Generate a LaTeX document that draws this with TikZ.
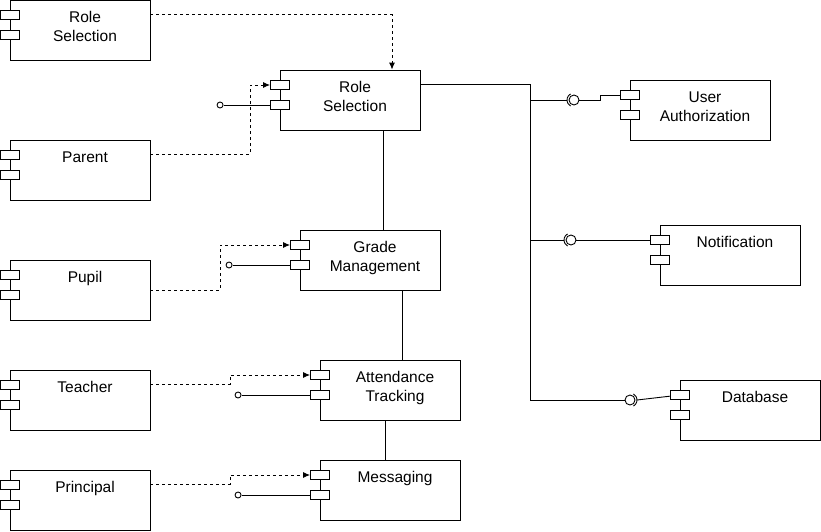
\documentclass[tikz,border=0pt]{standalone}
\usepackage{fontspec}
\setmainfont{Liberation Sans}
\usetikzlibrary{arrows.meta, shapes}

\begin{document}
\begin{tikzpicture}[comp/.style={draw, minimum width=140pt, minimum height=60pt, inner sep=0pt},
					port/.style={draw, fill=white, minimum width=19pt, minimum height=9pt, inner sep=0pt},
					lbl/.style={anchor=north, align=center, inner sep=0pt, font=\fontsize{15.5}{19}\selectfont},
					dep/.style={->, dash pattern=on 3pt off 3pt},
					endpt/.style={draw, circle, fill=white, minimum size=6pt, inner sep=0pt},
					ball/.style={draw, circle, minimum size=10pt, inner sep=0pt},
					x=1pt, y=-1pt, line width=0.9pt,
					>={Latex[length=7pt, width=6pt]}]   %Pfeilspitzen
					%Bildbereich
					\useasboundingbox (0,0) rectangle (821,531);
					% Komponenten mit Anschluessen
					\foreach \n/\x/\y/\t in {rsa/10/0/{Role\\Selection}, par/10/140/Parent, pup/10/260/Pupil, tea/10/370/Teacher, pri/10/470/Principal, rs/280/70/{Role\\Selection}, gm/300/230/{Grade\\Management}, attd/320/360/{Attendance\\Tracking}, msg/320/460/Messaging, ua/630/80/{User\\Authorization}, nt/660/225/Notification, db/680/380/Database} {
						\node[comp] (\n) at (\x+70,\y+30) {};
						\node[port] (\n-p1) at (\x,\y+15) {};
						\node[port] (\n-p2) at (\x,\y+35) {};
						\node[lbl] (\n-t) at ([xshift=5pt, yshift=-11.5pt]\n.north) {\t};
					}
					% Abhaengigkeiten (gestrichelt)
					\draw[dep] ([yshift=-15pt]rsa.north east) -| ([xshift=42pt]rs.north);
					\draw[dep] ([yshift=-15pt]par.north east) -| ([xshift=-20pt]rs-p1.west) -- (rs-p1.west);
					\draw[dep] (pup.east) -| ([xshift=-70pt]gm-p1.west) -- (gm-p1.west);
					\draw[dep] ([yshift=-15pt]tea.north east) -| ([xshift=-80pt]attd-p1.west) -- (attd-p1.west);
					\draw[dep] ([yshift=-15pt]pri.north east) -| ([xshift=-80pt]msg-p1.west) -- (msg-p1.west);
					% Offene Schnittstellen
					\foreach \n/\d in {rs/50pt, gm/61pt, attd/72pt, msg/72pt} {
						\node[endpt] (\n-e) at ([xshift=-\d]\n-p2.west) {};
						\draw (\n-e) -- (\n-p2);
					}
					% Verbindungen zwischen den Komponenten
					\draw ([xshift=33pt]rs.south) -- ([xshift=33pt]rs.south |- gm.north);
					\draw ([xshift=32pt]gm.south) -- ([xshift=32pt]gm.south |- attd.north);
					\draw ([xshift=-5pt]attd.south) -- ([xshift=-5pt]attd.south |- msg.north);
					% Bus zu den Diensten rechts
					\node[ball] (ua-b) at (574,100) {};
					\node[ball] (nt-b) at (571,240) {};
					\node[ball] (db-b) at (630,400) {};
					\coordinate (bus) at (530,400);
					\draw ([yshift=-15pt]rs.north east) -| (bus) -- (db-b);
					\draw (bus |- ua-b) -- ([xshift=-7pt]ua-b.center);
					\draw (bus |- nt-b) -- ([xshift=-7pt]nt-b.center);
					% Sockel
					\foreach \b in {ua-b, nt-b} \draw ([shift={(120:7pt)}]\b.center) arc[start angle=120, end angle=240, radius=7pt];
					\draw ([shift={(-60:7pt)}]db-b.center) arc[start angle=-60, end angle=60, radius=7pt];
					\draw (ua-b) -- ++(26,0) |- (ua-p1);
					\draw (nt-b) -- (nt-p1);
					\draw ([xshift=7pt]db-b.center) -- (db-p1);
				\end{tikzpicture}
\end{document}
